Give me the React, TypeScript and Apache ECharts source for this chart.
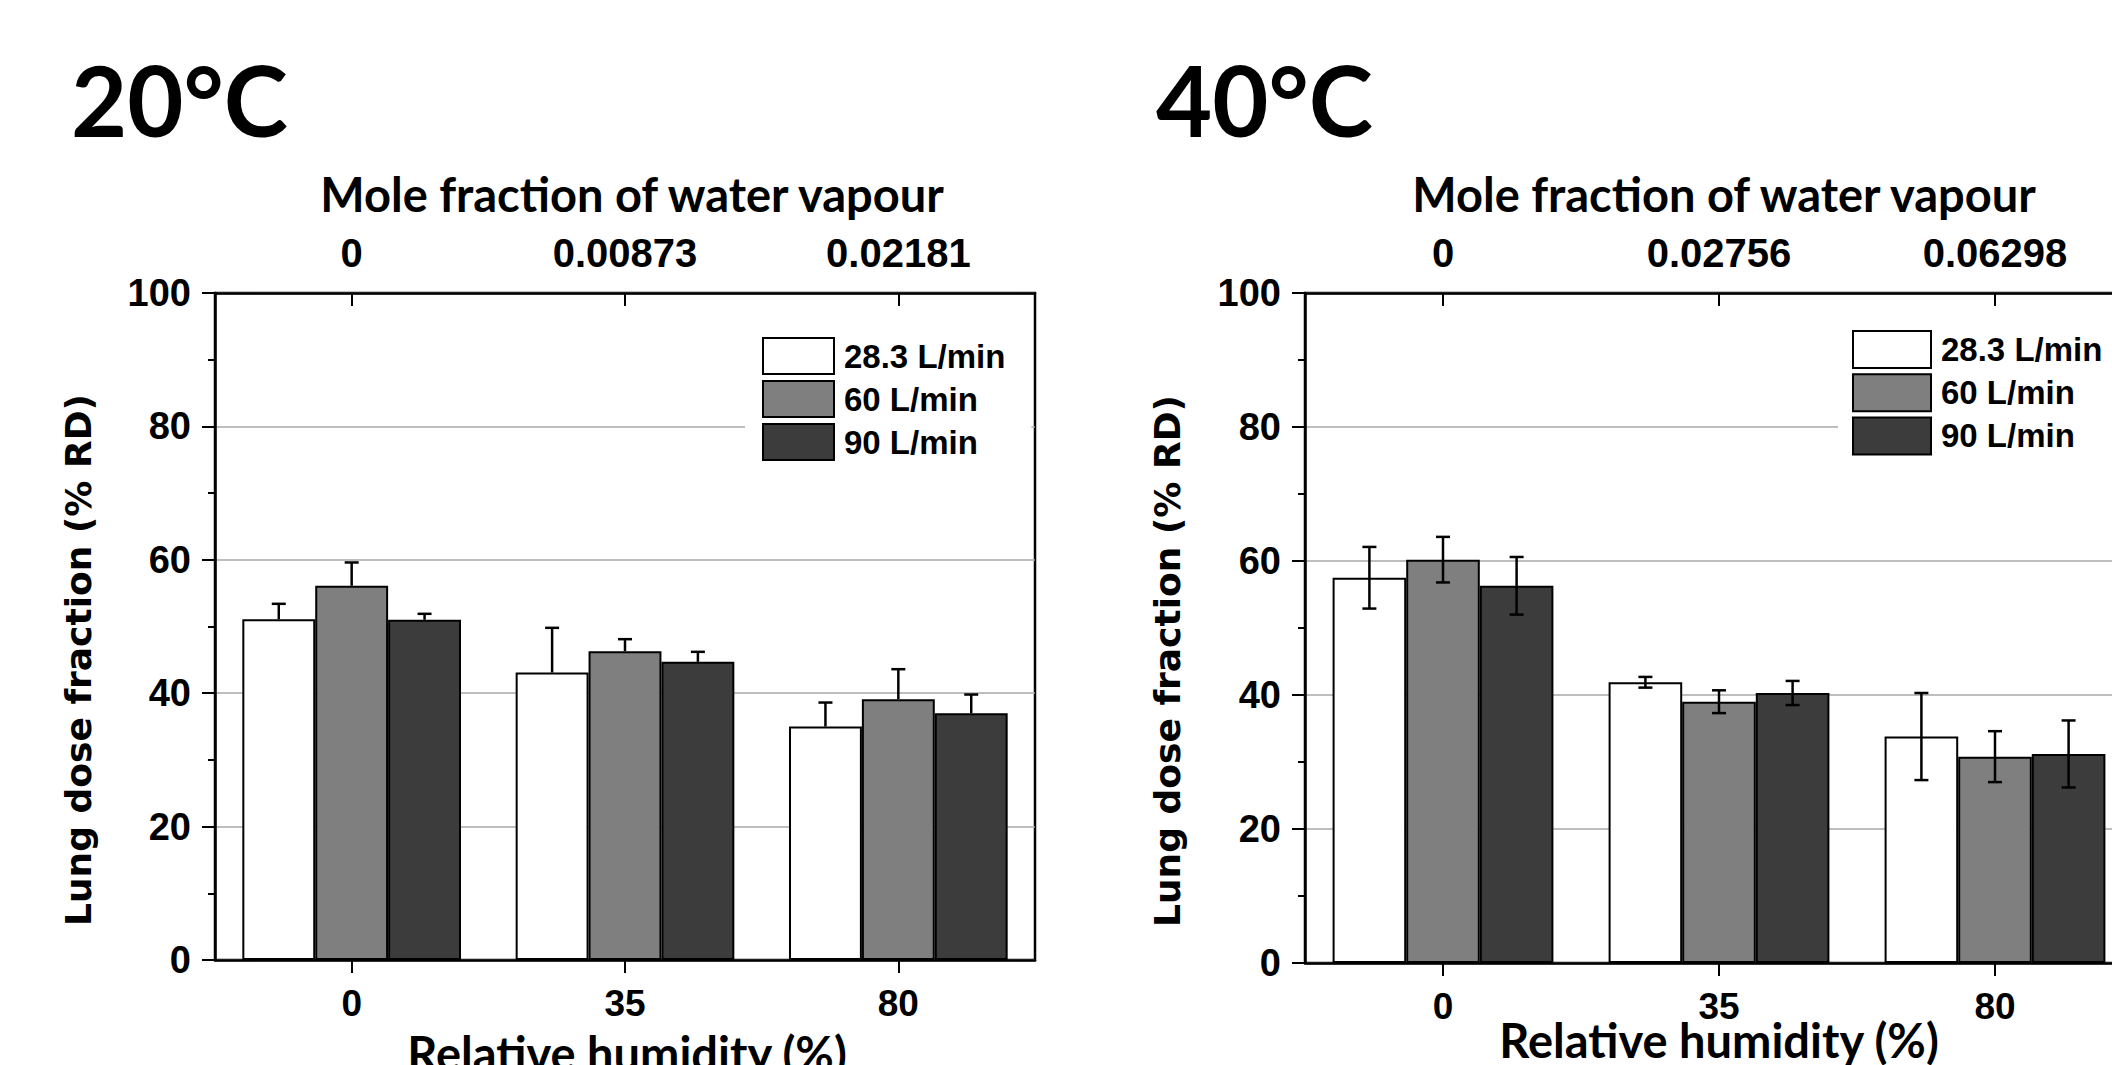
import React, { useEffect, useRef } from "react";
import * as echarts from "echarts";

// ---- Data ----
const rhCategories = ["0", "35", "80"];
const moleFraction20 = ["0", "0.00873", "0.02181"];
const moleFraction40 = ["0", "0.02756", "0.06298"];
const flowNames = ["28.3 L/min", "60 L/min", "90 L/min"];
const flowColors = ["#ffffff", "#7f7f7f", "#3c3c3c"];

// 20°C lung dose fraction (% RD) and (upper) error
const dose20_283 = [51.1, 43.1, 35.0];
const dose20_60 = [56.1, 46.3, 39.1];
const dose20_90 = [51.0, 44.7, 37.0];
const err20_283 = [2.3, 6.7, 3.6];
const err20_60 = [3.5, 1.8, 4.5];
const err20_90 = [0.9, 1.5, 2.8];

// 40°C lung dose fraction (% RD) and (symmetric) error
const dose40_283 = [57.5, 41.9, 33.8];
const dose40_60 = [60.2, 39.0, 30.8];
const dose40_90 = [56.3, 40.3, 31.2];
const err40_283 = [4.6, 0.8, 6.5];
const err40_60 = [3.4, 1.7, 3.8];
const err40_90 = [4.3, 1.8, 5.0];

const yTicks = { min: 0, max: 100, interval: 20 };

const NUM_FONT = "'Liberation Sans', Arial, sans-serif";
const TITLE_FONT = "Lato, 'Noto Sans', sans-serif";
const YNAME_FONT = "'DejaVu Sans', sans-serif";

function makeErrRender(both: boolean) {
  return (params: any, api: any) => {
    const cat = api.value(0);
    const k = api.value(1);
    const v = api.value(2);
    const e = api.value(3);
    const band = api.size([1, 0])[0];
    const bw = (band * 0.8) / 3;
    const cx = api.coord([cat, 0])[0] + (k - 1) * bw;
    const yTop = api.coord([cat, v + e])[1];
    const yBot = api.coord([cat, both ? v - e : v])[1];
    const h = 7;
    const style = { stroke: "#000", lineWidth: 2.5 };
    const children: any[] = [
      { type: "line", shape: { x1: cx, y1: yTop, x2: cx, y2: yBot }, style },
      { type: "line", shape: { x1: cx - h, y1: yTop, x2: cx + h, y2: yTop }, style },
    ];
    if (both) {
      children.push({ type: "line", shape: { x1: cx - h, y1: yBot, x2: cx + h, y2: yBot }, style });
    }
    return { type: "group", children };
  };
}

function errData(vals: number[][], errs: number[][]) {
  const out: number[][] = [];
  vals.forEach((arr, k) => arr.forEach((v, i) => out.push([i, k, v, errs[k][i]])));
  return out;
}

export default function App() {
  const ref = useRef<HTMLDivElement>(null);

  useEffect(() => {
    if (!ref.current) return;
    const chart = echarts.init(ref.current, undefined, { renderer: "svg" });

    const grids = [
      { left: 215, top: 293, width: 820, height: 667 },
      { left: 1305, top: 293, width: 828, height: 670 },
    ].map((g) => ({ ...g, show: true, borderColor: "#000", borderWidth: 2.5, backgroundColor: "transparent" }));

    const bottomAxis = (gi: number) => ({
      type: "category",
      gridIndex: gi,
      position: "bottom",
      data: rhCategories,
      axisLine: { show: true, lineStyle: { color: "#000", width: 2.5 } },
      axisTick: { show: true, alignWithLabel: true, inside: false, length: 13, lineStyle: { color: "#000", width: 2 } },
      axisLabel: { fontFamily: NUM_FONT, fontWeight: "bold", fontSize: 37, color: "#000", margin: 25 },
      splitLine: { show: false },
    });
    const topAxis = (gi: number, labels: string[]) => ({
      type: "category",
      gridIndex: gi,
      position: "top",
      data: labels,
      axisLine: { show: true, lineStyle: { color: "#000", width: 2.5 } },
      axisTick: { show: true, alignWithLabel: true, inside: true, length: 13, lineStyle: { color: "#000", width: 2 } },
      axisLabel: { fontFamily: NUM_FONT, fontWeight: "bold", fontSize: 40, color: "#000", margin: 20 },
      splitLine: { show: false },
    });
    const yAxis = (gi: number) => ({
      type: "value",
      gridIndex: gi,
      min: yTicks.min,
      max: yTicks.max,
      interval: yTicks.interval,
      axisLine: { show: true, lineStyle: { color: "#000", width: 2.5 } },
      axisTick: { show: true, inside: false, length: 13, lineStyle: { color: "#000", width: 2 } },
      minorTick: { show: true, splitNumber: 2, length: 7, lineStyle: { color: "#000", width: 2 } },
      axisLabel: { fontFamily: NUM_FONT, fontWeight: "bold", fontSize: 38, color: "#000", margin: 24 },
      splitLine: { show: true, lineStyle: { color: "#a8a8a8", width: 1.5 } },
    });

    const vals20 = [dose20_283, dose20_60, dose20_90];
    const errs20 = [err20_283, err20_60, err20_90];
    const vals40 = [dose40_283, dose40_60, dose40_90];
    const errs40 = [err40_283, err40_60, err40_90];

    const barSeries = (vals: number[][], xi: number, yi: number) =>
      vals.map((arr, k) => ({
        type: "bar",
        name: flowNames[k],
        xAxisIndex: xi,
        yAxisIndex: yi,
        data: arr,
        barCategoryGap: "20%",
        barGap: "0%",
        itemStyle: { color: flowColors[k], borderColor: "#000", borderWidth: 2 },
        z: 2,
      }));

    const legendBase = {
      orient: "vertical",
      data: flowNames,
      backgroundColor: "#ffffff",
      itemStyle: { borderColor: "#000", borderWidth: 2 },
      selectedMode: false,
      icon: "rect",
      z: 5,
    };
    const legendText = (lh: number) => ({
      fontFamily: NUM_FONT,
      fontWeight: "bold",
      fontSize: 33,
      lineHeight: lh,
      color: "#000",
      padding: [0, 0, 0, 5],
    });

    const textG = (text: string, x: number, y: number, size: number, font: string, rotation = 0, align = "center") => ({
      type: "text",
      x,
      y,
      rotation,
      style: {
        text,
        fontFamily: font,
        fontWeight: "bold",
        fontSize: size,
        fill: "#000",
        textAlign: align,
        textVerticalAlign: "middle",
      },
      z: 10,
    });

    const option: any = {
      animation: false,
      backgroundColor: "#ffffff",
      grid: grids,
      xAxis: [bottomAxis(0), topAxis(0, moleFraction20), bottomAxis(1), topAxis(1, moleFraction40)],
      yAxis: [yAxis(0), yAxis(1)],
      legend: [
        {
          ...legendBase,
          left: 745,
          top: 329,
          padding: [8, 26, 8, 17],
          itemWidth: 71,
          itemHeight: 36,
          itemGap: 5,
          textStyle: legendText(36),
        },
        {
          ...legendBase,
          left: 1838,
          top: 322,
          padding: [8, 10, 8, 14],
          itemWidth: 78,
          itemHeight: 37,
          itemGap: 4.2,
          textStyle: legendText(37),
        },
      ],
      series: [
        ...barSeries(vals20, 0, 0),
        ...barSeries(vals40, 2, 1),
        {
          type: "custom",
          name: "err20",
          xAxisIndex: 0,
          yAxisIndex: 0,
          renderItem: makeErrRender(false),
          data: errData(vals20, errs20),
          encode: { x: 0, y: 2 },
          z: 4,
          silent: true,
        },
        {
          type: "custom",
          name: "err40",
          xAxisIndex: 2,
          yAxisIndex: 1,
          renderItem: makeErrRender(true),
          data: errData(vals40, errs40),
          encode: { x: 0, y: 2 },
          z: 4,
          silent: true,
        },
      ],
      graphic: [
        textG("20°C", 71, 99, 97, TITLE_FONT, 0, "left"),
        textG("40°C", 1156, 99, 97, TITLE_FONT, 0, "left"),
        textG("Mole fraction of water vapour", 632, 194, 47, TITLE_FONT),
        textG("Mole fraction of water vapour", 1724, 194, 47, TITLE_FONT),
        textG("Relative humidity (%)", 627, 1053, 47, TITLE_FONT),
        textG("Relative humidity (%)", 1719, 1040, 47, TITLE_FONT),
        textG("Lung dose fraction (% RD)", 78, 660, 36, YNAME_FONT, Math.PI / 2),
        textG("Lung dose fraction (% RD)", 1167, 661, 36, YNAME_FONT, Math.PI / 2),
      ],
    };

    chart.setOption(option);
    return () => chart.dispose();
  }, []);

  return (
    <div style={{ position: "absolute", left: 0, top: 0, width: 2112, height: 1065, overflow: "hidden", background: "#fff" }}>
      <div ref={ref} style={{ width: 2150, height: 1065 }} />
    </div>
  );
}
